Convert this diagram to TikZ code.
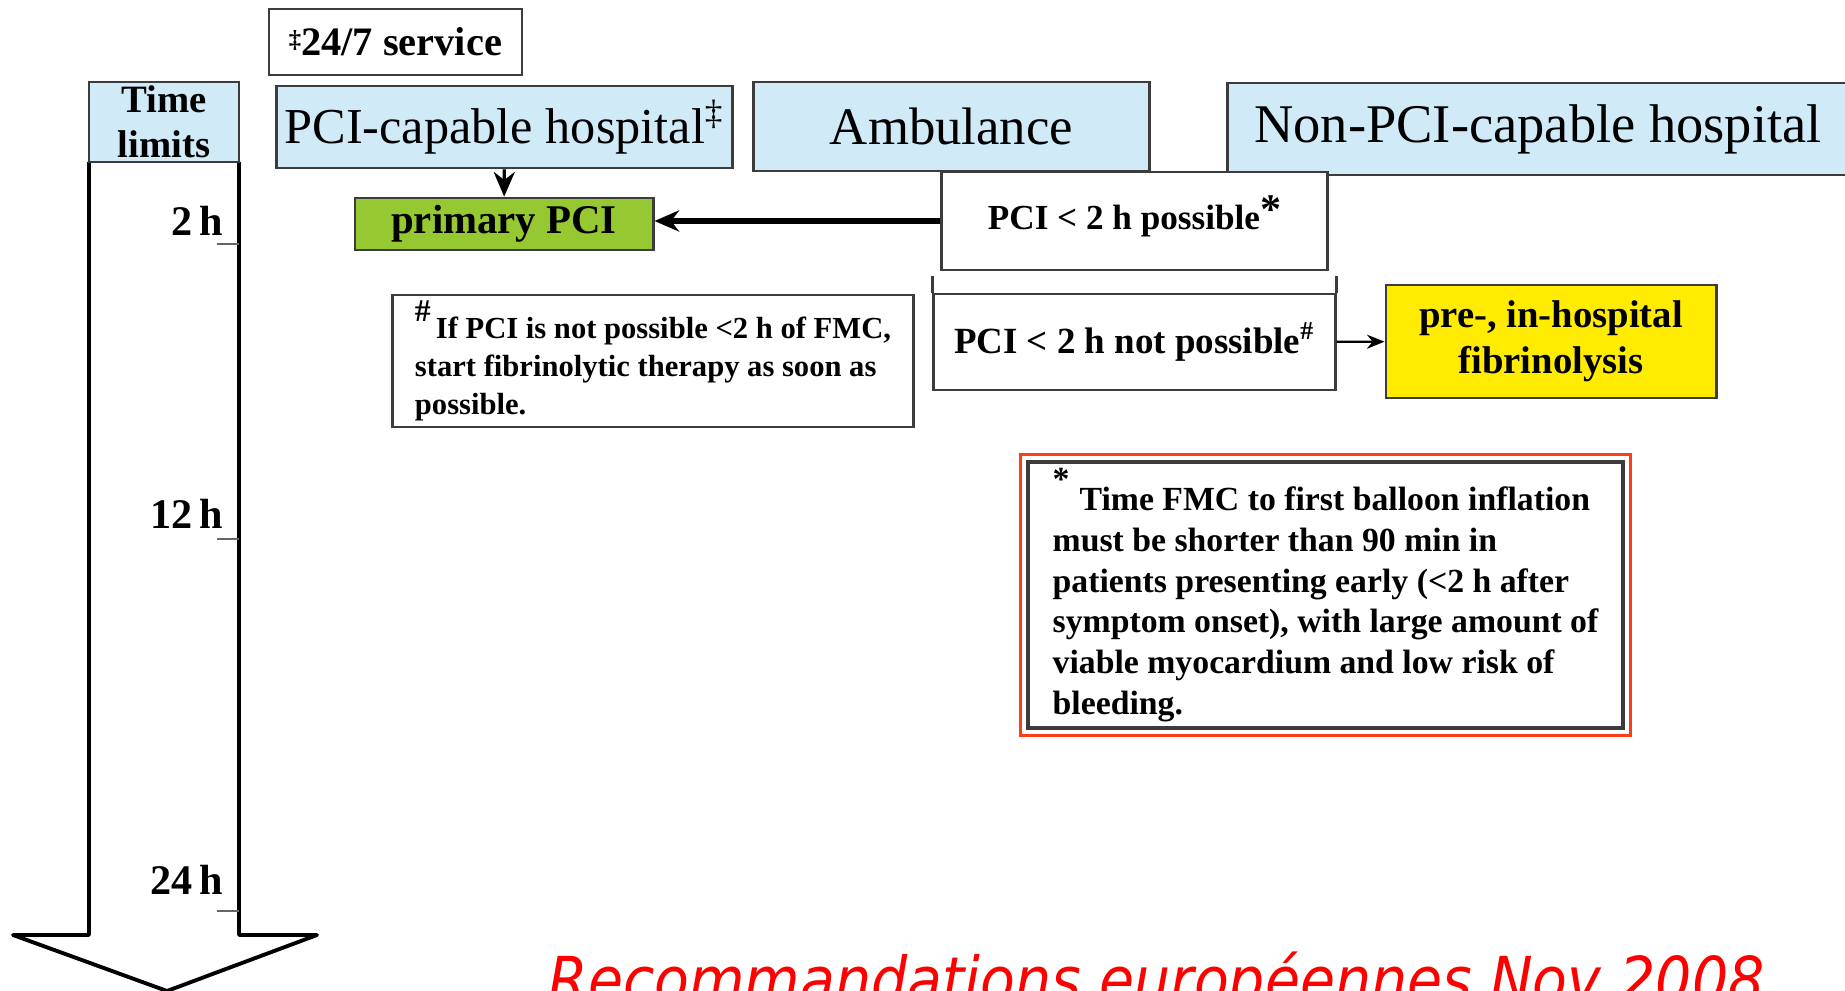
\documentclass[tikz,border=0pt]{standalone}
\usepackage{fontspec}
\setmainfont{Liberation Serif}
\newfontfamily\titlefont{DejaVu Sans}
\usetikzlibrary{arrows.meta}
\definecolor{hdrblue}{RGB}{208,234,248}
\definecolor{pcigreen}{RGB}{150,200,50}
\definecolor{lysisyellow}{RGB}{255,236,0}
\definecolor{noteorange}{RGB}{255,60,20}
\definecolor{boxgray}{RGB}{60,60,60}
\definecolor{titlered}{RGB}{255,0,0}
\tikzset{
  boxline/.style={draw=boxgray, line width=0.8pt},
  header/.style={boxline, fill=hdrblue, inner sep=0pt, align=center},
  stepbox/.style={boxline, fill=white, inner sep=0pt, align=center},
  notebox/.style={boxline, fill=white, inner xsep=0.16cm, inner ysep=0.03cm, align=left},
  hourlabel/.style={anchor=east, inner sep=0pt, font=\fontsize{12}{14}\selectfont\bfseries},
  hourtick/.style={draw=black!60, line width=0.6pt},
  flow/.style={-{Stealth[length=7pt,width=6pt]}, line width=0.9pt},
}
\begin{document}
\begin{tikzpicture}[x=0.01cm, y=-0.01cm]
  \useasboundingbox (0,0) rectangle (1845,991);
  % time axis
  \draw[line width=1.1pt, line join=round, fill=white] (89,162) -- (89,935) -- (13,935)
    -- (167,991) -- (317,935) -- (239,935) -- (239,162);
  \node[header, minimum width=1.50cm, minimum height=0.80cm,
    font=\fontsize{11}{12.7}\selectfont\bfseries] (timehdr) at (164,122) {Time\\limits};
  \foreach \hr/\ylab/\ytick in {2/221/244, 12/514/539, 24/880/911} {
    \node[hourlabel] (h\hr) at (224,\ylab) {\hr\,h};
    \draw[hourtick] (217,\ytick) -- (239,\ytick);
  }

  % settings
  \node[stepbox, minimum width=2.53cm, minimum height=0.66cm,
    font=\fontsize{11.5}{13}\selectfont\bfseries] (service) at (395.5,42)
    {\raisebox{.45ex}{\scriptsize ‡}24/7 service};
  \node[header, minimum width=4.55cm, minimum height=0.82cm,
    font=\fontsize{14.3}{16}\selectfont] (pcihosp) at (504.5,127)
    {PCI-capable hospital\textsuperscript{‡}};
  \node[header, minimum width=3.95cm, minimum height=0.89cm,
    font=\fontsize{15}{17}\selectfont] (amb) at (951.5,126.5) {Ambulance};
  \node[header, minimum width=6.20cm, minimum height=0.92cm,
    font=\fontsize{15.5}{17}\selectfont] (nonpci) at (1538,129) {Non-PCI-capable hospital};

  % decisions
  \node[stepbox, fill=pcigreen, minimum width=2.98cm, minimum height=0.52cm,
    font=\fontsize{11.6}{13}\selectfont\bfseries] (primary) at (504,224) {primary PCI};
  \node[stepbox, minimum width=3.85cm, minimum height=0.98cm,
    font=\fontsize{10}{12}\selectfont\bfseries] (possible) at (1134.5,221)
    {PCI < 2 h possible\raisebox{0.35ex}[0pt][0pt]{\large *}};
  \node[stepbox, minimum width=4.01cm, minimum height=0.96cm,
    font=\fontsize{10.5}{12}\selectfont\bfseries] (notposs) at (1134.5,342)
    {PCI < 2 h not possible\textsuperscript{\#}};
  \draw[boxline] (notposs.north west) -- ++(0,-17) (notposs.north east) -- ++(0,-17);
  \node[stepbox, fill=lysisyellow, minimum width=3.30cm, minimum height=1.13cm,
    font=\fontsize{11}{13}\selectfont\bfseries] (fibrin) at (1551,341.5)
    {pre-, in-hospital\\fibrinolysis};

  % footnotes
  \node[notebox, minimum width=5.20cm, minimum height=1.32cm,
    font=\fontsize{8.7}{10.9}\selectfont\bfseries] (hashnote) at (653,361)
    {\raisebox{1.2ex}{\small\#}\,If PCI is not possible <2 h of FMC,\\
     start fibrinolytic therapy as soon as\\possible.};
  \node[notebox, line width=1.2pt, minimum width=5.95cm, minimum height=2.66cm,
    font=\fontsize{9.6}{11.6}\selectfont\bfseries] (starnote) at (1325.5,595)
    {\raisebox{1.3ex}{*}\hspace{0.3em}Time FMC to first balloon inflation\\
     must be shorter than 90 min in\\
     patients presenting early (<2 h after\\
     symptom onset), with large amount of\\
     viable myocardium and low risk of\\
     bleeding.};
  \draw[noteorange, line width=0.8pt] ([shift={(-5,-5)}]starnote.north west)
    rectangle ([shift={(5,5)}]starnote.south east);

  % connectors
  \draw[flow] (pcihosp) -- (primary);
  \draw[flow, line width=1.6pt] (possible.west) -- (possible.west -| primary.east);
  \draw[-{Stealth[length=5pt,width=4pt]}, line width=0.6pt] (notposs) -- (fibrin);

  \node[anchor=base west, inner sep=0pt, xscale=0.9, text=titlered,
    font=\titlefont\itshape\fontsize{18}{20}\selectfont] (credit) at (548,1002)
    {Recommandations européennes Nov 2008};
\end{tikzpicture}
\end{document}
